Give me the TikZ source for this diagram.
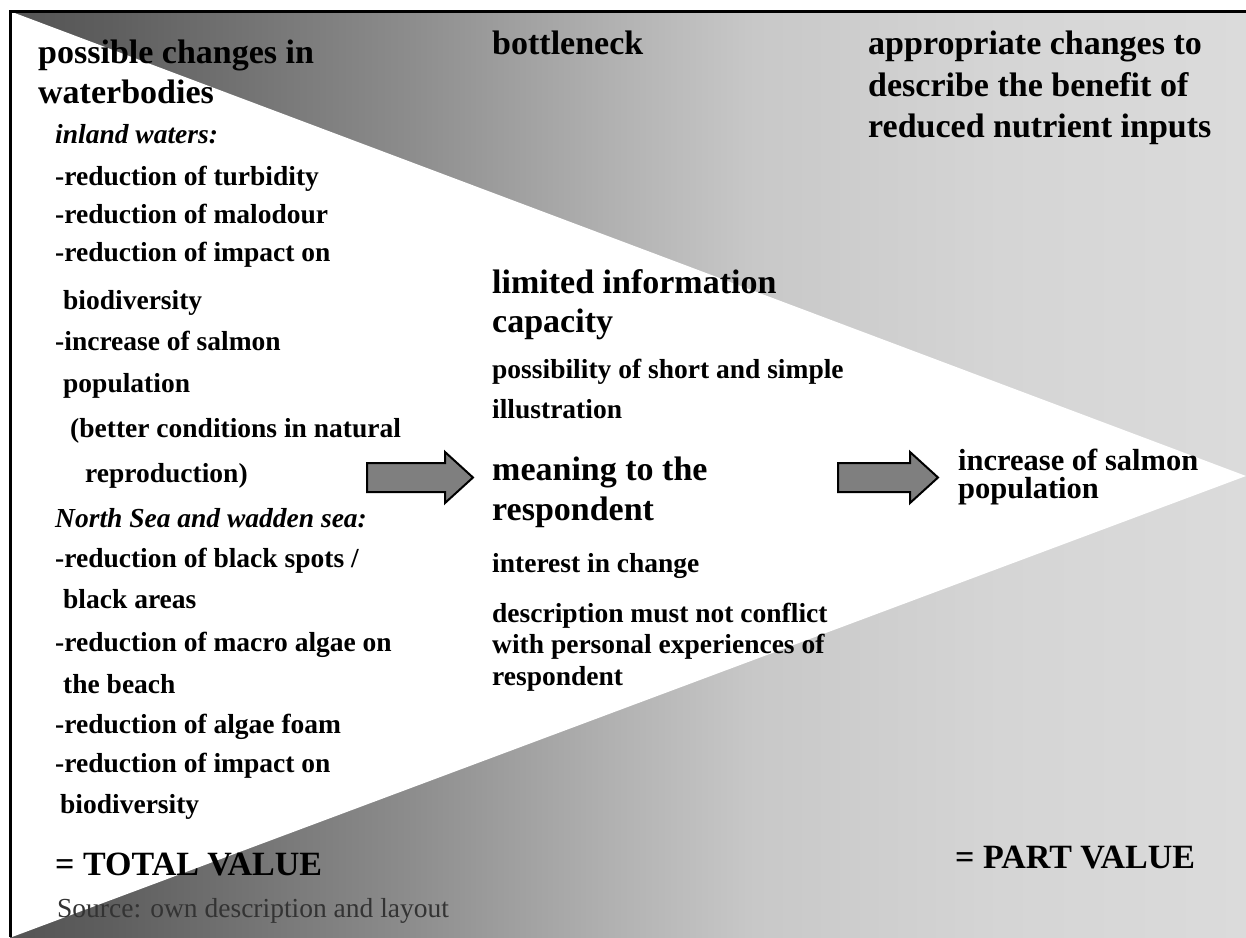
\documentclass[tikz,border=0pt]{standalone}
\usepackage{fontspec}
\setmainfont{Liberation Serif}
\definecolor{g0}{HTML}{545454}
\definecolor{g1}{HTML}{5E5E5E}
\definecolor{g2}{HTML}{8C8C8C}
\definecolor{g3}{HTML}{B0B0B0}
\definecolor{g4}{HTML}{C8C8C8}
\definecolor{g5}{HTML}{D5D5D5}
\definecolor{g6}{HTML}{DBDBDB}
\definecolor{arrowgray}{HTML}{7F7F7F}
\pgfdeclarehorizontalshading{bgshade}{100bp}{color(0bp)=(g0); color(25bp)=(g0); color(29bp)=(g1); color(41.05bp)=(g2); color(49.08bp)=(g3); color(55.1bp)=(g4); color(65.13bp)=(g5); color(75bp)=(g6); color(100bp)=(g6)}
\begin{document}
\begin{tikzpicture}[x=1pt,y=-1pt,
  hd/.style={anchor=base west,inner sep=0pt,font=\fontsize{34}{40}\selectfont\bfseries},
  li/.style={anchor=base west,inner sep=0pt,font=\fontsize{27.5}{32}\selectfont\bfseries},
  lit/.style={anchor=base west,inner sep=0pt,font=\fontsize{27.5}{32}\selectfont\bfseries\itshape},
  src/.style={anchor=base west,inner sep=0pt,text=black!80,font=\fontsize{27.5}{32}\selectfont},
  blockarrow/.style={fill=arrowgray,draw=black,line width=2pt,line join=miter}]
\useasboundingbox (0,0) rectangle (1246,937);
% background
\shade[shading=bgshade] (10,11) rectangle (1246,937);
\fill[white] (12,12) -- (1246,476) -- (12,937) -- cycle;
\draw[line width=3.5pt] (10.5,937) -- (10.5,11.5) -- (1246,11.5);
% left column
\node[hd] (l1) at (38,63) {possible changes in};
\node[hd] (l2) at (38,103) {waterbodies};
\node[lit] (l3) at (55,143) {inland waters:};
\node[li] (l4) at (55,185) {-reduction of turbidity};
\node[li] (l5) at (55,223) {-reduction of malodour};
\node[li] (l6) at (55,261) {-reduction of impact on};
\node[li] (l7) at (63,309) {biodiversity};
\node[li] (l8) at (55,350) {-increase of salmon};
\node[li] (l9) at (63,392) {population};
\node[li] (l10) at (70,437) {(better conditions in natural};
\node[li] (l11) at (85,482) {reproduction)};
\node[lit] (l12) at (55,527) {North Sea and wadden sea:};
\node[li] (l13) at (55,567) {-reduction of black spots /};
\node[li] (l14) at (63,608) {black areas};
\node[li] (l15) at (55,651) {-reduction of macro algae on};
\node[li] (l16) at (63,693) {the beach};
\node[li] (l17) at (55,733) {-reduction of algae foam};
\node[li] (l18) at (55,772) {-reduction of impact on};
\node[li] (l19) at (60,813) {biodiversity};
\node[hd] (total) at (55,875) {= TOTAL VALUE};
\node[src] (source) at (57,917) {Source: own description and layout};
% middle column
\node[hd] (m0) at (492,54) {bottleneck};
\node[hd] (m1) at (492,293) {limited information};
\node[hd] (m2) at (492,332) {capacity};
\node[li] (m3) at (492,378) {possibility of short and simple};
\node[li] (m4) at (492,418) {illustration};
\node[hd] (m5) at (492,480) {meaning to the};
\node[hd] (m6) at (492,520) {respondent};
\node[li] (m7) at (492,572) {interest in change};
\node[li] (m8) at (492,622) {description must not conflict};
\node[li] (m9) at (492,653) {with personal experiences of};
\node[li] (m10) at (492,685) {respondent};
% right column
\node[hd] (r1) at (868,54) {appropriate changes to};
\node[hd] (r2) at (868,96) {describe the benefit of};
\node[hd] (r3) at (868,137) {reduced nutrient inputs};
\node[anchor=base west,inner sep=0pt,font=\fontsize{30.5}{34}\selectfont\bfseries] (r4) at (958,470) {increase of salmon};
\node[anchor=base west,inner sep=0pt,font=\fontsize{30.5}{34}\selectfont\bfseries] (r5) at (958,498) {population};
\node[hd] (part) at (955,868) {= PART VALUE};
% block arrows
\draw[blockarrow] (367,463) -- (445,463) -- (445,452) -- (473,477.5) -- (445,503) -- (445,492) -- (367,492) -- cycle;
\draw[blockarrow] (838,463) -- (910,463) -- (910,452) -- (938,477.5) -- (910,503) -- (910,492) -- (838,492) -- cycle;
\end{tikzpicture}
\end{document}
